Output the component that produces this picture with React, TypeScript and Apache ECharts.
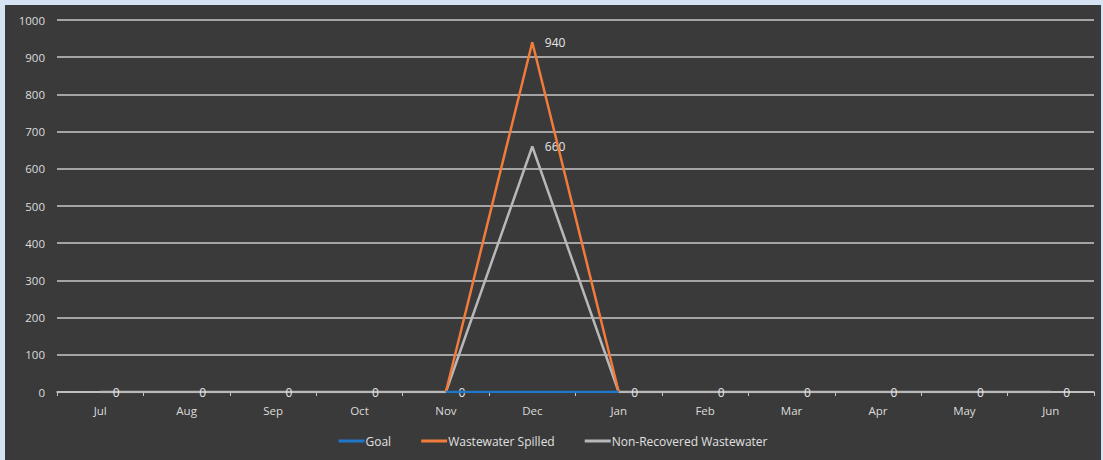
import React, { useEffect, useRef } from "react";
import * as echarts from "echarts";

const months = ["Jul", "Aug", "Sep", "Oct", "Nov", "Dec", "Jan", "Feb", "Mar", "Apr", "May", "Jun"];
const goal = [null, null, null, null, 0, 0, 0, null, null, null, null, null];
const spilled = [null, null, null, null, 0, 940, 0, null, null, null, null, null];
const nonRecovered = [0, 0, 0, 0, 0, 660, 0, 0, 0, 0, 0, 0];

const FONT = "'Open Sans', 'Liberation Sans', sans-serif";

export default function App() {
  const ref = useRef<HTMLDivElement>(null);
  useEffect(() => {
    if (!ref.current) return;
    const chart = echarts.init(ref.current, undefined, { renderer: "svg" });
    const labelStyle = {
      color: "#e6e6e6",
      fontSize: 12,
      fontFamily: FONT,
    };
    chart.setOption({
      animation: false,
      backgroundColor: "#3a3a3a",
      grid: { left: 52, right: 7, top: 15, bottom: 68, containLabel: false },
      legend: {
        bottom: 8,
        left: "center",
        itemWidth: 26,
        itemHeight: 3,
        itemGap: 30,
        icon: "rect",
        textStyle: { color: "#e0e0e0", fontSize: 12, fontFamily: FONT, padding: [0, 0, 0, -4] },
        data: ["Goal", "Wastewater Spilled", "Non-Recovered Wastewater"],
      },
      xAxis: {
        type: "category",
        data: months,
        boundaryGap: true,
        axisLine: { lineStyle: { color: "#c8c8c8", width: 1.5 } },
        axisTick: { show: true, length: 4, inside: false, lineStyle: { color: "#c8c8c8" } },
        axisLabel: { color: "#dcdcdc", fontSize: 11.5, fontFamily: FONT, margin: 12 },
        splitLine: { show: false },
      },
      yAxis: {
        type: "value",
        min: 0,
        max: 1000,
        interval: 100,
        axisLine: { show: false },
        axisTick: { show: false },
        axisLabel: { color: "#dcdcdc", fontSize: 11.5, fontFamily: FONT, margin: 12, formatter: (v: number) => String(v) },
        splitLine: { lineStyle: { color: "#c8c8c8", width: 1.5 } },
      },
      series: [
        {
          name: "Goal",
          type: "line",
          data: goal,
          z: 5,
          symbol: "none",
          color: "#1f77c9",
          lineStyle: { width: 2.5, color: "#1f77c9" },
        },
        {
          name: "Wastewater Spilled",
          type: "line",
          data: spilled,
          z: 4,
          symbol: "circle",
          symbolSize: 1,
          showSymbol: true,
          color: "#f07b3a",
          lineStyle: { width: 2.5, color: "#f07b3a" },
          label: {
            show: true,
            position: "right",
            distance: 12,
            ...labelStyle,
            formatter: (p: any) => (p.value > 0 ? String(p.value) : ""),
          },
        },
        {
          name: "Non-Recovered Wastewater",
          type: "line",
          data: nonRecovered,
          z: 3,
          symbol: "circle",
          symbolSize: 1,
          showSymbol: true,
          color: "#b8b8b8",
          lineStyle: { width: 2.5, color: "#b8b8b8" },
          label: {
            show: true,
            position: "right",
            distance: 12,
            ...labelStyle,
          },
        },
      ],
    });
    return () => chart.dispose();
  }, []);
  return (
    <div style={{ position: "fixed", left: 0, top: 0, width: 1103, height: 460, background: "#d6e3f2" }}>
      <div ref={ref} style={{ position: "absolute", left: 5, top: 5, width: 1096, height: 455 }} />
    </div>
  );
}
